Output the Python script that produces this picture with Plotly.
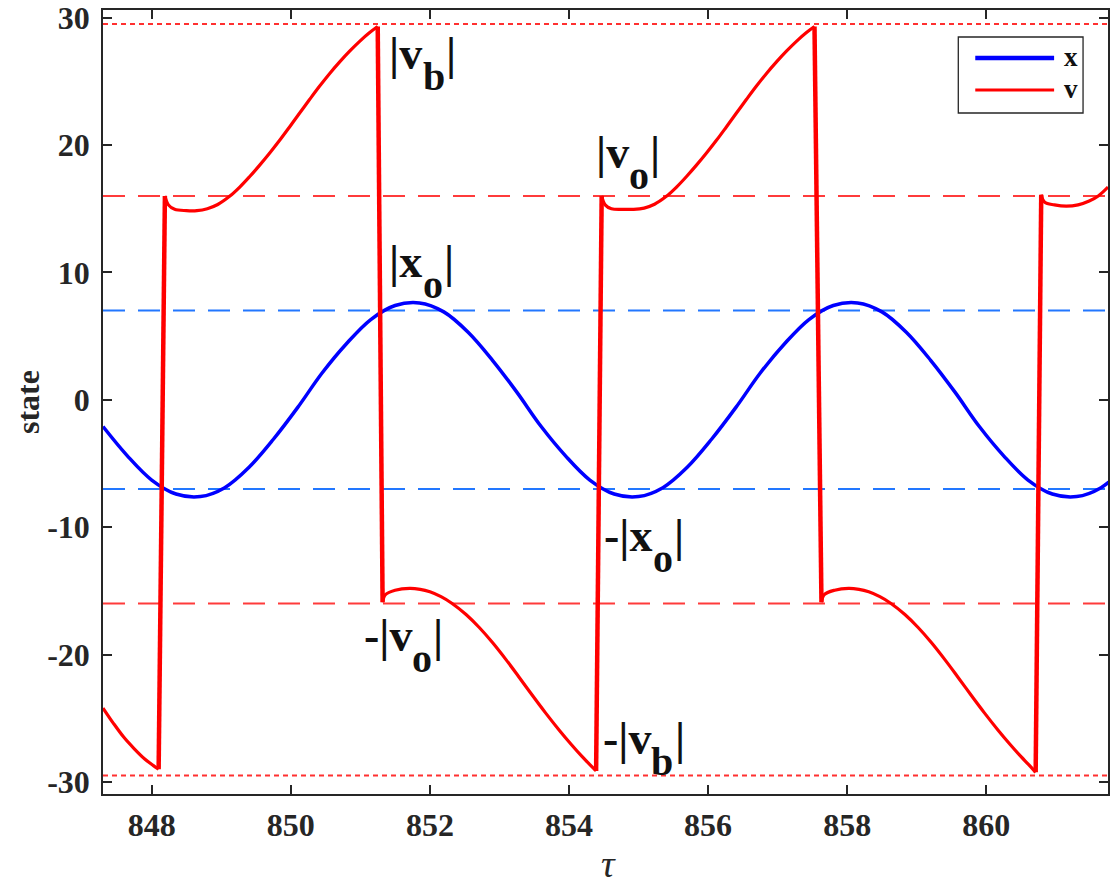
import plotly.graph_objects as go

# ---------------- data ----------------
tau_x = [847.30, 847.65, 848.00, 848.35, 848.70, 849.05, 849.40, 849.75, 850.10, 850.45,
         850.80, 851.15, 851.50, 851.85, 852.20, 852.55, 852.90, 853.25, 853.60, 853.95,
         854.30, 854.65, 855.00, 855.35, 855.70, 856.05, 856.40, 856.75, 857.10, 857.45,
         857.80, 858.15, 858.50, 858.85, 859.20, 859.55, 859.90, 860.25, 860.60, 860.95,
         861.30, 861.65, 862.00]
x_vals = [-2.1, -4.4, -6.3, -7.4, -7.6, -6.9, -5.3, -3.1, -0.6, 2.1,
          4.4, 6.3, 7.4, 7.6, 6.9, 5.3, 3.1, 0.6, -2.1, -4.4,
          -6.3, -7.4, -7.6, -6.9, -5.3, -3.1, -0.6, 2.1, 4.4, 6.3,
          7.4, 7.6, 6.9, 5.3, 3.1, 0.6, -2.1, -4.4, -6.3, -7.4,
          -7.6, -6.9, -5.3]

tau_v = [847.30, 847.45, 847.60, 847.75, 847.90, 848.02, 848.10,
         848.19, 848.24, 848.33, 848.50, 848.65, 848.80, 848.95, 849.12, 849.27, 849.41,
         849.55, 849.70, 849.84, 849.98, 850.12, 850.27, 850.41, 850.56, 850.70, 850.85,
         850.99, 851.13, 851.25,
         851.32, 851.36, 851.50, 851.71, 851.86, 852.00, 852.16, 852.32, 852.52, 852.71,
         852.90, 853.10, 853.28, 853.47, 853.66, 853.86, 854.03, 854.19, 854.30, 854.39,
         854.47, 854.52, 854.61, 854.78, 854.93, 855.08, 855.23, 855.40, 855.55, 855.69,
         855.83, 855.98, 856.12, 856.26, 856.40, 856.55, 856.69, 856.84, 856.98, 857.13,
         857.27, 857.41, 857.53,
         857.63, 857.67, 857.82, 858.02, 858.17, 858.31, 858.47, 858.63, 858.83, 859.02,
         859.21, 859.41, 859.59, 859.78, 859.97, 860.17, 860.34, 860.50, 860.61, 860.71,
         860.79, 860.84, 860.98, 861.15, 861.32, 861.48, 861.61, 861.75]
v_vals = [-24.2, -25.4, -26.5, -27.4, -28.2, -28.7, -29.0,
          16.0, 15.3, 14.95, 14.85, 14.85, 15.0, 15.33, 15.97, 16.72, 17.53,
          18.40, 19.39, 20.37, 21.40, 22.45, 23.57, 24.59, 25.62, 26.51, 27.39,
          28.14, 28.81, 29.3,
          -15.9, -15.3, -14.95, -14.8, -14.88, -15.08, -15.46, -15.99, -16.86, -17.88,
          -19.06, -20.44, -21.76, -23.18, -24.56, -25.94, -27.04, -28.02, -28.65, -29.14,
          16.0, 15.3, 15.0, 14.95, 14.95, 15.05, 15.35, 15.97, 16.72, 17.53,
          18.40, 19.39, 20.37, 21.40, 22.45, 23.57, 24.59, 25.62, 26.51, 27.39,
          28.14, 28.81, 29.3,
          -15.9, -15.3, -14.95, -14.8, -14.88, -15.08, -15.46, -15.99, -16.86, -17.88,
          -19.06, -20.44, -21.76, -23.18, -24.56, -25.94, -27.04, -28.02, -28.65, -29.25,
          16.1, 15.5, 15.3, 15.2, 15.3, 15.6, 16.0, 16.7]

vb_level = 29.5   # |v_b|
vo_level = 16.0   # |v_o|
xo_level = 7.0    # |x_o|

x_ticks = [848, 850, 852, 854, 856, 858, 860]
y_ticks = [-30, -20, -10, 0, 10, 20, 30]
x_range = [847.3, 861.75]
y_range = [-30.95, 30.6]

# label: (main text, subscript, tau of left edge, value of vertical centre)
labels = [
    ("|v", "b", 851.39, 27.15),
    ("|v", "o", 854.36, 19.45),
    ("|x", "o", 851.39, 10.82),
    ("-|x", "o", 854.48, -10.62),
    ("-|v", "o", 851.02, -18.47),
    ("-|v", "b", 854.46, -26.63),
]

# ---------------- figure ----------------
SERIF = "Liberation Serif"
AXC = "#262626"
TXT = "#111111"
RED = "#ff0000"
BLUE = "#0000ff"

fig = go.Figure()

fig.add_trace(go.Scatter(x=tau_x, y=x_vals, mode="lines", name="x",
                         line=dict(color=BLUE, width=3.5, shape="spline"),
                         showlegend=False))

# split v at its switching jumps: smooth arcs + straight thick jump segments
breaks = [i for i in range(1, len(v_vals)) if abs(v_vals[i] - v_vals[i - 1]) > 20]
starts = [0] + breaks
ends = breaks + [len(v_vals)]
for s, e in zip(starts, ends):
    fig.add_trace(go.Scatter(x=tau_v[s:e], y=v_vals[s:e], mode="lines", name="v",
                             line=dict(color=RED, width=3.2, shape="spline", smoothing=1.0),
                             showlegend=False))
jx, jy = [], []
for i in breaks:
    jx += [tau_v[i - 1], tau_v[i], None]
    jy += [v_vals[i - 1], v_vals[i], None]
fig.add_trace(go.Scatter(x=jx, y=jy, mode="lines", line=dict(color=RED, width=4.5),
                         showlegend=False, hoverinfo="skip"))

shapes = []
for lv in (vb_level, -vb_level):
    shapes.append(dict(type="line", xref="paper", x0=0, x1=1, yref="y", y0=lv, y1=lv,
                       line=dict(color="#ff3030", width=2, dash="5px,4px"), layer="below"))
for lv in (vo_level, -vo_level):
    shapes.append(dict(type="line", xref="paper", x0=0, x1=1, yref="y", y0=lv, y1=lv,
                       line=dict(color="#ff3b3b", width=2, dash="22px,13px"), layer="below"))
for lv in (xo_level, -xo_level):
    shapes.append(dict(type="line", xref="paper", x0=0, x1=1, yref="y", y0=lv, y1=lv,
                       line=dict(color="#2277ff", width=2, dash="22px,13px"), layer="below"))

# manual legend (MATLAB style)
L, W, T, H = 103, 1007, 10, 784
def px(xp): return (xp - L) / W
def py(yp): return 1 - (yp - T) / H
shapes.append(dict(type="rect", xref="paper", yref="paper", x0=px(960), x1=px(1085),
                   y0=py(113), y1=py(37), line=dict(color=AXC, width=1.3),
                   fillcolor="white"))
shapes.append(dict(type="line", xref="paper", yref="paper", x0=px(977), x1=px(1056),
                   y0=py(58), y1=py(58), line=dict(color=BLUE, width=4.5)))
shapes.append(dict(type="line", xref="paper", yref="paper", x0=px(977), x1=px(1056),
                   y0=py(90), y1=py(90), line=dict(color=RED, width=3)))

annotations = []
for name, yy in (("x", 58), ("v", 90)):
    annotations.append(dict(text=name, xref="paper", yref="paper", x=px(1064), y=py(yy - 1),
                            xanchor="left", yanchor="middle", showarrow=False,
                            font=dict(family=SERIF, size=27, color=TXT, weight="bold")))

MAIN_SIZE, SUB_SIZE = 46, 40
EM = {"|": 0.22, "v": 0.5, "x": 0.5, "-": 0.333, "b": 0.556, "o": 0.5}
for main, sub, tx, ty in labels:
    w_main = sum(EM[c] for c in main) * MAIN_SIZE
    w_sub = EM[sub] * SUB_SIZE
    common = dict(x=tx, y=ty, xref="x", yref="y", xanchor="left", yanchor="middle",
                  showarrow=False)
    annotations.append(dict(text=main, **common,
                            font=dict(family=SERIF, size=MAIN_SIZE, color=TXT, weight="bold")))
    annotations.append(dict(text=sub, xshift=w_main, yshift=-23, **common,
                            font=dict(family=SERIF, size=SUB_SIZE, color=TXT, weight="bold")))
    annotations.append(dict(text="|", xshift=w_main + w_sub + 1, **common,
                            font=dict(family=SERIF, size=MAIN_SIZE, color=TXT, weight="bold")))

annotations.append(dict(text="state", xref="paper", yref="paper", x=0, y=0.5,
                        xshift=-75, xanchor="center", yanchor="middle", textangle=-90,
                        showarrow=False,
                        font=dict(family=SERIF, size=32, color=AXC, weight="bold")))
annotations.append(dict(text="<i>τ</i>", xref="paper", yref="paper", x=px(610), y=0,
                        yshift=-70, xanchor="center", yanchor="middle", showarrow=False,
                        font=dict(family=SERIF, size=38, color=AXC)))

fig.update_layout(
    width=1110, height=884,
    margin=dict(l=103, r=0, t=10, b=90),
    paper_bgcolor="white", plot_bgcolor="white",
    shapes=shapes, annotations=annotations,
    showlegend=False,
    xaxis=dict(range=x_range, tickvals=x_ticks, ticktext=[str(t) for t in x_ticks],
               ticks="inside", ticklen=9, tickwidth=1.5, tickcolor=AXC,
               showline=True, linecolor=AXC, linewidth=1.5, mirror="allticks",
               showgrid=False, zeroline=False, ticklabelstandoff=2,
               ticklabeloverflow="allow",
               tickfont=dict(family=SERIF, size=32, color=AXC, weight="bold")),
    yaxis=dict(range=y_range, tickvals=y_ticks, ticktext=[str(t) for t in y_ticks],
               ticks="inside", ticklen=9, tickwidth=1.5, tickcolor=AXC,
               showline=True, linecolor=AXC, linewidth=1.5, mirror="allticks",
               showgrid=False, zeroline=False, ticklabelstandoff=5,
               ticklabeloverflow="allow",
               tickfont=dict(family=SERIF, size=32, color=AXC, weight="bold")),
)

fig.write_html("out.html")
